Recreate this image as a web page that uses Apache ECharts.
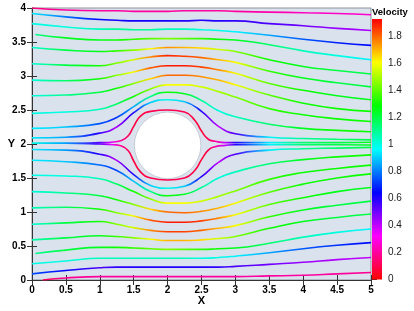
<!DOCTYPE html>
<html>
<head>
<meta charset="utf-8">
<script src="https://cdn.jsdelivr.net/npm/echarts@6/dist/echarts.min.js"></script>
<style>
html,body{margin:0;padding:0;background:#fff;}
#chart{width:414px;height:311px;}
</style>
</head>
<body>
<div id="chart"></div>
<script>
// ---------------- data ----------------
const xTicks = [0, 0.5, 1, 1.5, 2, 2.5, 3, 3.5, 4, 4.5, 5];
const yTicks = [0, 0.5, 1, 1.5, 2, 2.5, 3, 3.5, 4];
const velTicks = [0, 0.2, 0.4, 0.6, 0.8, 1, 1.2, 1.4, 1.6, 1.8];
const velMax = 1.93;

// obstacle (cylinder): centre x, centre y, radius
const cylinder = [2.0, 1.98, 0.49];

// sampling abscissae shared by the streamlines
const xGrid = [0, 0.5, 1, 1.25, 1.5, 1.75, 2, 2.25, 2.5, 2.75, 3, 3.5, 4, 4.5, 5];

// upper streamlines (from the centre outwards): start x, y values, velocity values
const upperStartX = [0, 0, 0, 0, 0, 0, 0, 0.05, 0, 0, 0];
const upperY = [
  [2.09, 2.10, 2.16, 2.25, 2.46, 2.61, 2.65, 2.62, 2.48, 2.26, 2.15, 2.10, 2.08, 2.07, 2.06],
  [2.23, 2.25, 2.30, 2.39, 2.55, 2.70, 2.76, 2.74, 2.64, 2.49, 2.40, 2.29, 2.23, 2.20, 2.18],
  [2.45, 2.47, 2.51, 2.59, 2.70, 2.81, 2.87, 2.87, 2.84, 2.77, 2.69, 2.52, 2.43, 2.37, 2.33],
  [2.71, 2.72, 2.76, 2.82, 2.89, 2.96, 3.01, 3.01, 2.99, 2.94, 2.87, 2.72, 2.60, 2.52, 2.48],
  [2.94, 2.93, 2.96, 3.01, 3.06, 3.12, 3.15, 3.15, 3.13, 3.09, 3.04, 2.89, 2.79, 2.71, 2.65],
  [3.18, 3.16, 3.15, 3.19, 3.24, 3.28, 3.30, 3.29, 3.27, 3.24, 3.20, 3.07, 2.97, 2.90, 2.84],
  [3.42, 3.38, 3.36, 3.37, 3.38, 3.40, 3.42, 3.42, 3.41, 3.39, 3.36, 3.24, 3.14, 3.08, 3.03],
  [3.61, 3.56, 3.53, 3.53, 3.54, 3.55, 3.55, 3.55, 3.55, 3.54, 3.53, 3.46, 3.37, 3.30, 3.24],
  [3.77, 3.72, 3.69, 3.69, 3.68, 3.68, 3.69, 3.69, 3.68, 3.67, 3.65, 3.60, 3.54, 3.49, 3.45],
  [3.92, 3.87, 3.83, 3.82, 3.81, 3.81, 3.81, 3.81, 3.82, 3.81, 3.81, 3.77, 3.74, 3.70, 3.67],
  [4.00, 3.97, 3.96, 3.96, 3.95, 3.95, 3.95, 3.96, 3.96, 3.96, 3.95, 3.94, 3.93, 3.92, 3.90]
];
const upperV = [
  [0.95, 0.85, 0.60, 0.42, 0.60, 0.90, 1.00, 0.90, 0.60, 0.40, 0.55, 0.95, 1.10, 1.15, 1.20],
  [0.95, 0.90, 0.75, 0.70, 0.85, 1.10, 1.30, 1.25, 1.10, 1.00, 1.05, 1.15, 1.25, 1.30, 1.30],
  [1.00, 1.00, 1.05, 1.15, 1.30, 1.45, 1.60, 1.60, 1.55, 1.50, 1.45, 1.35, 1.30, 1.30, 1.30],
  [1.00, 1.10, 1.20, 1.30, 1.45, 1.65, 1.80, 1.80, 1.75, 1.70, 1.60, 1.40, 1.30, 1.30, 1.30],
  [1.00, 1.15, 1.30, 1.45, 1.60, 1.80, 1.90, 1.90, 1.85, 1.75, 1.60, 1.40, 1.30, 1.25, 1.25],
  [1.00, 1.20, 1.30, 1.45, 1.55, 1.75, 1.88, 1.85, 1.80, 1.70, 1.60, 1.35, 1.25, 1.20, 1.20],
  [1.00, 1.20, 1.25, 1.35, 1.45, 1.60, 1.75, 1.70, 1.65, 1.55, 1.45, 1.30, 1.25, 1.20, 1.20],
  [1.10, 1.25, 1.25, 1.30, 1.35, 1.40, 1.45, 1.40, 1.35, 1.30, 1.25, 1.15, 1.05, 1.00, 0.95],
  [1.00, 1.00, 1.05, 1.10, 1.10, 1.10, 1.05, 1.05, 1.00, 1.00, 0.95, 0.85, 0.75, 0.68, 0.65],
  [0.95, 0.80, 0.65, 0.62, 0.62, 0.62, 0.62, 0.60, 0.60, 0.60, 0.58, 0.55, 0.50, 0.45, 0.42],
  [0.15, 0.20, 0.20, 0.20, 0.20, 0.20, 0.20, 0.20, 0.20, 0.20, 0.20, 0.22, 0.24, 0.25, 0.26]
];

// lower streamlines (from the centre outwards)
const lowerStartX = [0, 0, 0, 0, 0, 0, 0, 0.05, 0, 0, 0.16];
const lowerY = [
  [1.92, 1.91, 1.85, 1.76, 1.55, 1.39, 1.35, 1.38, 1.52, 1.73, 1.85, 1.91, 1.93, 1.94, 1.95],
  [1.76, 1.74, 1.69, 1.61, 1.45, 1.30, 1.24, 1.26, 1.36, 1.50, 1.59, 1.71, 1.77, 1.81, 1.84],
  [1.54, 1.53, 1.49, 1.41, 1.30, 1.19, 1.13, 1.13, 1.16, 1.23, 1.31, 1.48, 1.58, 1.64, 1.69],
  [1.30, 1.28, 1.24, 1.18, 1.11, 1.04, 1.00, 0.99, 1.01, 1.06, 1.13, 1.29, 1.41, 1.50, 1.56],
  [1.06, 1.07, 1.04, 0.99, 0.94, 0.88, 0.85, 0.85, 0.87, 0.91, 0.96, 1.11, 1.21, 1.30, 1.36],
  [0.82, 0.84, 0.86, 0.82, 0.77, 0.73, 0.71, 0.71, 0.73, 0.76, 0.80, 0.93, 1.03, 1.10, 1.16],
  [0.59, 0.62, 0.65, 0.64, 0.62, 0.60, 0.58, 0.58, 0.59, 0.61, 0.64, 0.76, 0.86, 0.92, 0.97],
  [0.39, 0.44, 0.48, 0.48, 0.47, 0.46, 0.45, 0.45, 0.45, 0.46, 0.47, 0.54, 0.63, 0.70, 0.75],
  [0.24, 0.28, 0.32, 0.32, 0.32, 0.32, 0.32, 0.32, 0.32, 0.33, 0.35, 0.40, 0.46, 0.51, 0.55],
  [0.09, 0.14, 0.18, 0.19, 0.19, 0.19, 0.19, 0.19, 0.19, 0.19, 0.20, 0.23, 0.26, 0.30, 0.33],
  [0.00, 0.03, 0.05, 0.05, 0.05, 0.05, 0.05, 0.05, 0.05, 0.05, 0.05, 0.06, 0.07, 0.09, 0.11]
];
const lowerV = [
  [0.95, 0.85, 0.60, 0.42, 0.60, 0.90, 1.00, 0.90, 0.60, 0.40, 0.55, 0.95, 1.10, 1.15, 1.20],
  [0.95, 0.90, 0.78, 0.72, 0.88, 1.10, 1.30, 1.25, 1.10, 1.00, 1.05, 1.15, 1.25, 1.30, 1.30],
  [1.00, 1.00, 1.05, 1.15, 1.30, 1.45, 1.60, 1.60, 1.55, 1.50, 1.45, 1.35, 1.30, 1.30, 1.30],
  [1.00, 1.10, 1.20, 1.30, 1.45, 1.65, 1.80, 1.80, 1.75, 1.70, 1.60, 1.40, 1.30, 1.30, 1.30],
  [1.05, 1.15, 1.30, 1.45, 1.60, 1.80, 1.90, 1.90, 1.85, 1.75, 1.60, 1.40, 1.30, 1.25, 1.25],
  [1.00, 1.20, 1.30, 1.45, 1.55, 1.75, 1.85, 1.85, 1.80, 1.70, 1.60, 1.35, 1.25, 1.20, 1.20],
  [1.05, 1.20, 1.25, 1.35, 1.45, 1.60, 1.70, 1.70, 1.65, 1.55, 1.45, 1.30, 1.25, 1.20, 1.20],
  [1.10, 1.20, 1.25, 1.30, 1.35, 1.40, 1.45, 1.40, 1.35, 1.30, 1.25, 1.15, 1.05, 1.00, 0.95],
  [1.00, 1.00, 1.05, 1.05, 1.05, 1.05, 1.05, 1.05, 1.00, 1.00, 0.95, 0.85, 0.75, 0.70, 0.65],
  [0.75, 0.65, 0.55, 0.58, 0.60, 0.60, 0.60, 0.60, 0.60, 0.58, 0.55, 0.50, 0.45, 0.42, 0.40],
  [0.10, 0.18, 0.20, 0.20, 0.20, 0.20, 0.20, 0.20, 0.20, 0.20, 0.20, 0.20, 0.20, 0.20, 0.18]
];

// dividing streamline (splits over and under the cylinder)
const centerX = [0, 0.5, 1, 1.2, 1.32, 1.42, 1.5, 1.6, 1.75, 2, 2.25, 2.4, 2.5, 2.6, 2.7, 2.85, 3, 3.5, 4, 4.5, 5];
const centerTopY = [2.01, 2.01, 2.02, 2.03, 2.05, 2.12, 2.26, 2.41, 2.48, 2.50, 2.47, 2.35, 2.19, 2.07, 2.04, 2.02, 2.02, 2.02, 2.02, 2.02, 2.025];
const centerBottomY = [2.01, 2.01, 2.00, 1.99, 1.97, 1.90, 1.75, 1.59, 1.50, 1.47, 1.50, 1.61, 1.77, 1.91, 1.96, 1.98, 1.99, 1.99, 1.99, 1.99, 1.985];
const centerV = [1.00, 0.85, 0.55, 0.35, 0.20, 0.12, 0.08, 0.08, 0.10, 0.10, 0.10, 0.08, 0.07, 0.10, 0.20, 0.40, 0.60, 0.95, 1.15, 1.20, 1.25];

// ---------------- styling ----------------
const scaleStops = ['#ff0000', '#ff00ff', '#0000ff', '#00ffff', '#00ff00', '#ffff00', '#ff0000'];
const FONT = '"Liberation Sans", Arial, Helvetica, sans-serif';

function hex(h) { return [parseInt(h.slice(1, 3), 16), parseInt(h.slice(3, 5), 16), parseInt(h.slice(5, 7), 16)]; }
function velColor(v) {
  const n = scaleStops.length - 1;
  let t = Math.max(0, Math.min(1, v / velMax)) * n;
  let i = Math.min(Math.floor(t), n - 1);
  const f = t - i;
  const a = hex(scaleStops[i]), b = hex(scaleStops[i + 1]);
  return 'rgb(' + a.map((c, k) => Math.round(c + (b[k] - c) * f)).join(',') + ')';
}

function makeLine(xs, ys, vs, x0) {
  const pts = xs.map((x, i) => [i === 0 ? x0 : x, ys[i]]);
  const xs0 = pts[0][0], xs1 = pts[pts.length - 1][0];
  const stops = pts.map((p, i) => ({ offset: (p[0] - xs0) / (xs1 - xs0), color: velColor(vs[i]) }));
  return {
    type: 'line', xAxisIndex: 0, yAxisIndex: 0, data: pts,
    showSymbol: false, symbol: 'none', smooth: 0.5,
    silent: true, z: 3,
    lineStyle: { width: 1.6, color: new echarts.graphic.LinearGradient(0, 0, 1, 0, stops) }
  };
}

const series = [];
// cylinder
series.push({
  type: 'custom', xAxisIndex: 0, yAxisIndex: 0, silent: true, z: 2,
  data: [cylinder],
  renderItem: function (params, api) {
    const c = api.coord([api.value(0), api.value(1)]);
    const s = api.size([api.value(2), api.value(2)]);
    return { type: 'circle', shape: { cx: c[0], cy: c[1], r: (s[0] + s[1]) / 2 },
      style: { fill: '#ffffff', stroke: 'rgba(190,196,206,0.8)', lineWidth: 1 } };
  }
});
for (let k = 0; k < upperY.length; k++) series.push(makeLine(xGrid, upperY[k], upperV[k], upperStartX[k]));
for (let k = 0; k < lowerY.length; k++) series.push(makeLine(xGrid, lowerY[k], lowerV[k], lowerStartX[k]));
series.push(makeLine(centerX, centerTopY, centerV, centerX[0]));
series.push(makeLine(centerX, centerBottomY, centerV, centerX[0]));

// colour bar
const barStops = scaleStops.map((c, i) => ({ offset: i / (scaleStops.length - 1), color: c }));
series.push({
  type: 'custom', xAxisIndex: 2, yAxisIndex: 2, silent: true,
  data: [[0, 0, 1, velMax]],
  renderItem: function (params, api) {
    const p0 = api.coord([api.value(0), api.value(1)]);
    const p1 = api.coord([api.value(2), api.value(3)]);
    return { type: 'rect', shape: { x: p0[0], y: p1[1], width: p1[0] - p0[0], height: p0[1] - p1[1] },
      style: { fill: new echarts.graphic.LinearGradient(0, 1, 0, 0, barStops) } };
  }
});

const labelStyle = { fontFamily: FONT, fontSize: 10, fontWeight: 'bold', color: '#000' };

const option = {
  animation: false,
  grid: [
    { left: 32, top: 8, width: 339, height: 272, show: true, backgroundColor: '#dae2ee', borderColor: '#8e939a', borderWidth: 1,
      containLabel: false, outerBoundsMode: 'none' },
    { left: 372, top: 19, width: 10, height: 260.5, containLabel: false, outerBoundsMode: 'none' }
  ],
  xAxis: [
    { gridIndex: 0, type: 'value', min: 0, max: 5, interval: 0.5, position: 'bottom',
      axisLine: { lineStyle: { color: '#333', width: 1 } },
      axisTick: { length: 5, lineStyle: { color: '#333' } },
      axisLabel: Object.assign({ margin: 5, customValues: xTicks }, labelStyle),
      splitLine: { show: false },
      name: 'X', nameLocation: 'middle', nameGap: 15, nameMoveOverlap: false,
      nameTextStyle: { fontFamily: FONT, fontSize: 11, fontWeight: 'bold', color: '#000' } },
    { gridIndex: 0, type: 'value', min: 0, max: 5, interval: 0.5, position: 'bottom',
      axisLine: { show: false }, axisTick: { inside: true, length: 5, lineStyle: { color: '#333' } },
      axisLabel: { show: false }, splitLine: { show: false } },
    { gridIndex: 1, type: 'value', min: 0, max: 1, show: false }
  ],
  yAxis: [
    { gridIndex: 0, type: 'value', min: 0, max: 4, interval: 0.5, position: 'left',
      axisLine: { lineStyle: { color: '#333', width: 1 } },
      axisTick: { length: 5, lineStyle: { color: '#333' } },
      axisLabel: Object.assign({ margin: 6, customValues: yTicks }, labelStyle),
      splitLine: { show: false },
      name: 'Y', nameLocation: 'middle', nameGap: 17, nameRotate: 0, nameMoveOverlap: false,
      nameTextStyle: { fontFamily: FONT, fontSize: 11, fontWeight: 'bold', color: '#000' } },
    { gridIndex: 0, type: 'value', min: 0, max: 4, interval: 0.5, position: 'left',
      axisLine: { show: false }, axisTick: { inside: true, length: 5, lineStyle: { color: '#333' } },
      axisLabel: { show: false }, splitLine: { show: false } },
    { gridIndex: 1, type: 'value', min: 0, max: velMax, position: 'right',
      axisLine: { show: false },
      axisTick: { length: 5, customValues: velTicks, lineStyle: { color: '#333' } },
      axisLabel: { margin: 6, customValues: velTicks, fontFamily: FONT, fontSize: 10, color: '#222' },
      splitLine: { show: false } }
  ],
  graphic: [
    { type: 'text', left: 372, top: 7, silent: true,
      style: { text: 'Velocity', fontFamily: FONT, fontSize: 9.5, fontWeight: 'bold', fill: '#000' } }
  ],
  series: series
};

const chart = echarts.init(document.getElementById('chart'), null, { renderer: 'canvas' });
chart.setOption(option);
</script>
</body>
</html>
